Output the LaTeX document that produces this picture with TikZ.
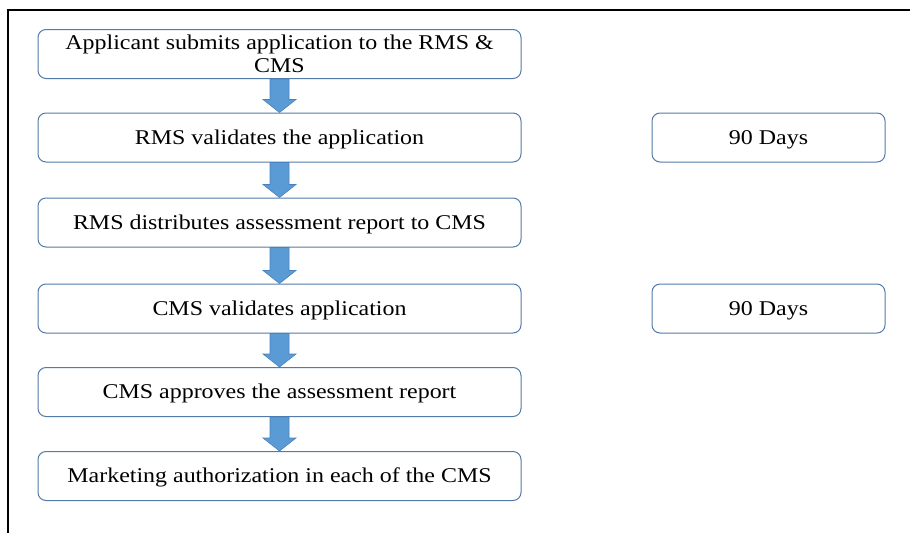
\documentclass[tikz,border=0pt]{standalone}
\usepackage{fontspec}
\setmainfont{Liberation Serif}[FakeStretch=1.14]
\usetikzlibrary{calc}
\definecolor{boxline}{RGB}{84,122,168}
\definecolor{arrfill}{RGB}{91,155,213}
\definecolor{arrline}{RGB}{70,130,190}
\tikzset{
  stepbox/.style={draw=boxline, line width=1pt, rounded corners=8pt, fill=white,
    minimum height=49pt, inner sep=0pt, align=center,
    font=\fontsize{21}{23}\selectfont},
  onebox/.style={text height=15pt, text depth=1.4pt},
  leftbox/.style={stepbox, minimum width=483pt},
  daybox/.style={stepbox, onebox, minimum width=233pt},
  arrfillstyle/.style={fill=arrfill, draw=arrline, line width=0.6pt}
}
\newcommand\flowarrow[2]{%
  \path[arrfillstyle] ($(#1.south)+(-9.5,0)$) -- ($(#2.north)+(-9.5,-13)$)
    -- ($(#2.north)+(-16.5,-13)$) -- (#2.north) -- ($(#2.north)+(16.5,-13)$)
    -- ($(#2.north)+(9.5,-13)$) -- ($(#1.south)+(9.5,0)$) -- cycle;}
\begin{document}
\begin{tikzpicture}[x=1pt,y=-1pt]
\useasboundingbox (0,0) rectangle (910,533);
\coordinate (tl) at (8,10);
\coordinate (tr) at (910,10);
\coordinate (bl) at (8,533);
\draw[line width=1.2pt] (tr) -- (tl) -- (bl);
\node[leftbox] (b1) at (279.5,54) {Applicant submits application to the RMS \&\\CMS};
\node[leftbox, onebox] (b2) at (279.5,137.5) {RMS validates the application};
\node[leftbox, onebox] (b3) at (279.5,222.5) {RMS distributes assessment report to CMS};
\node[leftbox, onebox] (b4) at (279.5,308.5) {CMS validates application};
\node[leftbox, onebox] (b5) at (279.5,392) {CMS approves the assessment report};
\node[leftbox, onebox] (b6) at (279.5,476) {Marketing authorization in each of the CMS};
\node[daybox] (d1) at (768.5,137.5) {90 Days};
\node[daybox] (d2) at (768.5,308.5) {90 Days};
\flowarrow{b1}{b2}
\flowarrow{b2}{b3}
\flowarrow{b3}{b4}
\flowarrow{b4}{b5}
\flowarrow{b5}{b6}
\end{tikzpicture}
\end{document}
